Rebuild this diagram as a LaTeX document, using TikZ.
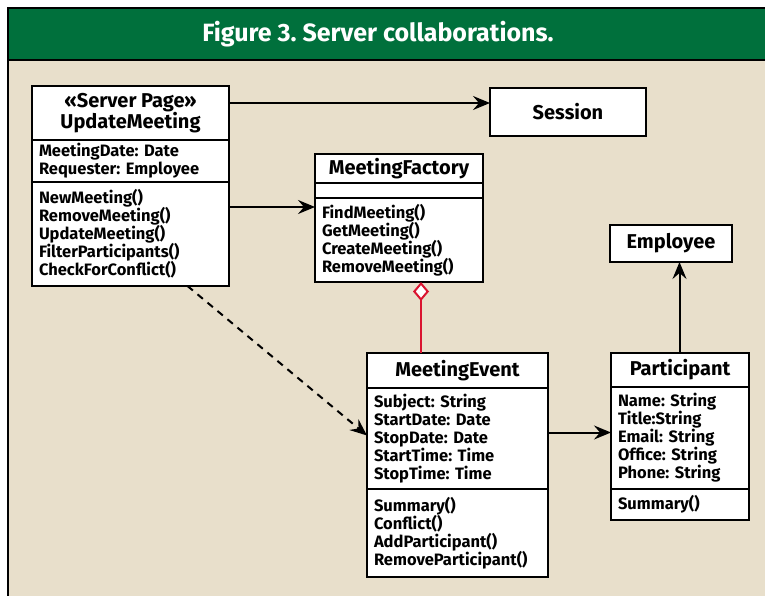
\documentclass[tikz,border=0pt]{standalone}
\usepackage{fontspec}
\setmainfont{Fira Sans}
\usetikzlibrary{positioning}
\usetikzlibrary{arrows.meta}

\definecolor{hdrgreen}{RGB}{0,112,60}
\definecolor{paper}{RGB}{232,223,203}
\definecolor{aggred}{RGB}{218,20,48}

\tikzset{
  cls/.style={draw, fill=white, line width=1.2pt, outer sep=0pt, inner sep=0pt},
  clsname/.style={cls, align=center, font=\bfseries\fontsize{20}{21}\selectfont},
  clsbody/.style={cls, inner xsep=7pt, align=left, font=\bfseries\fontsize{16.5}{18}\selectfont},
  conn/.style={line width=2pt, -{Stealth[length=17pt,width=14pt,inset=6pt]}},
  agg/.style={aggred, line width=2pt, {Diamond[fill=white,length=19pt,width=16pt]}-}
}
\frenchspacing

\begin{document}
\begin{tikzpicture}[x=1pt, y=-1pt]
  \useasboundingbox (0,0) rectangle (765,596);
  \fill[white] (0,0) rectangle (765,596);
  \fill[paper] (8,8) rectangle (765,596); %背景
  \fill[hdrgreen] (8,8) rectangle (765,60); %見出し
  \draw[line width=2pt] (8,596) -- (8,8) -- (765,8);
  \draw[line width=2pt] (8,60) -- (765,60);
  \node[text=white, font=\bfseries\fontsize{25}{30}\selectfont] (ttl) at (378,34) {Figure 3. Server collaborations.};

  % UpdateMeeting
  \node[clsname, minimum width=197pt, minimum height=54pt, anchor=north west] (upd) at (32,86) {«Server Page»\\UpdateMeeting};
  \node[clsbody, text width=183pt, minimum height=42pt, below=0pt of upd] (upd-a) {MeetingDate: Date\\Requester: Employee};
  \node[clsbody, text width=183pt, minimum height=104pt, below=0pt of upd-a] (upd-m) {NewMeeting()\\RemoveMeeting()\\UpdateMeeting()\\FilterParticipants()\\CheckForConflict()};

  % Session
  \node[clsname, minimum width=156pt, minimum height=48pt, anchor=north west] (sess) at (490,88) {Session};

  % MeetingFactory
  \node[clsname, minimum width=168pt, minimum height=29pt, anchor=north west] (fac) at (315,154) {MeetingFactory};
  \node[clsbody, text width=154pt, minimum height=15pt, below=0pt of fac] (fac-a) {};
  \node[clsbody, text width=154pt, minimum height=84pt, below=0pt of fac-a] (fac-m) {FindMeeting()\\GetMeeting()\\CreateMeeting()\\RemoveMeeting()};

  % Employee
  \node[clsname, minimum width=122pt, minimum height=37pt, anchor=north west] (emp) at (610,225) {Employee};

  % MeetingEvent
  \node[clsname, minimum width=181pt, minimum height=35pt, anchor=north west] (evt) at (367,353) {MeetingEvent};
  \node[clsbody, text width=167pt, minimum height=101pt, below=0pt of evt] (evt-a) {Subject: String\\StartDate: Date\\StopDate: Date\\StartTime: Time\\StopTime: Time};
  \node[clsbody, text width=167pt, minimum height=88pt, below=0pt of evt-a] (evt-m) {Summary()\\Conflict()\\AddParticipant()\\RemoveParticipant()};

  % Participant
  \node[clsname, minimum width=138pt, minimum height=34pt, anchor=north west] (part) at (611,353) {Participant};
  \node[clsbody, text width=124pt, minimum height=102pt, below=0pt of part] (part-a) {Name: String\\Title:String\\Email: String\\Office: String\\Phone: String};
  \node[clsbody, text width=124pt, minimum height=31pt, below=0pt of part-a] (part-m) {Summary()};

  % 関連
  \coordinate (s1) at ([yshift=-17pt]upd.north east);
  \draw[conn] (s1) -- (s1 -| sess.west);
  \coordinate (f1) at ([yshift=-9pt]fac-m.north west);
  \draw[conn] (f1 -| upd-m.east) -- (f1);
  \draw[conn, dashed, dash pattern=on 7pt off 6pt] ([xshift=57pt]upd-m.south) -- ([yshift=3pt]evt-a.west);
  \coordinate (p1) at ([yshift=6pt]evt-a.east);
  \draw[conn] (p1) -- (p1 -| part-a.west);
  \draw[conn] ([xshift=-0.5pt]part.north) -- ([xshift=-0.5pt]part.north |- emp.south);
  \coordinate (g1) at ([xshift=22pt]fac-m.south);
  \draw[agg] (g1) -- (g1 |- evt.north); %集約
\end{tikzpicture}
\end{document}
